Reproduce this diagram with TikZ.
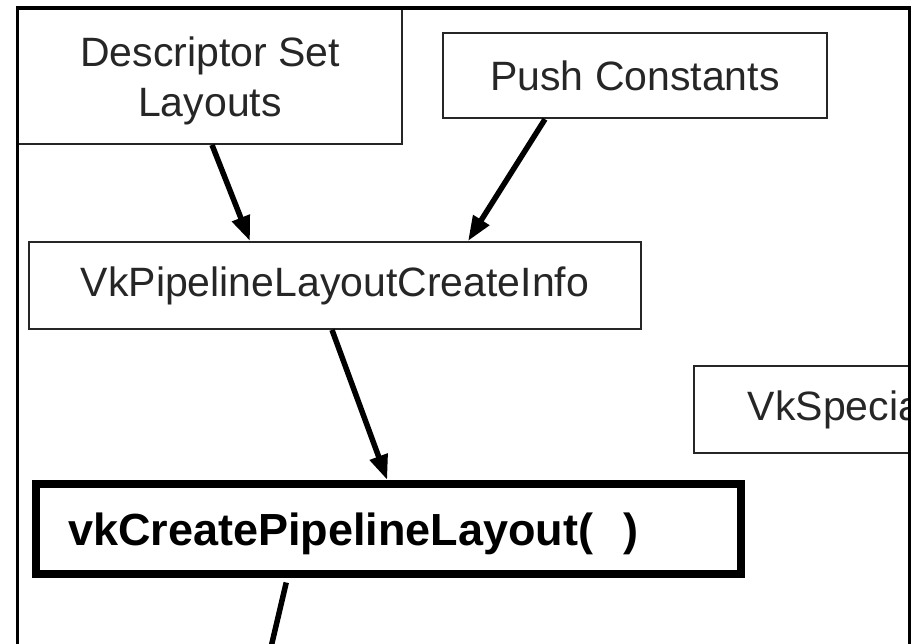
\documentclass[tikz,border=0pt]{standalone}
\usepackage{fontspec}
\setmainfont{Liberation Sans}
\usetikzlibrary{arrows.meta}
\begin{document}
\begin{tikzpicture}[x=1pt,y=-1pt,
  box/.style={draw=black!85, line width=1.8pt, inner sep=0pt,
    font=\fontsize{41}{50}\selectfont, text=black!85},
  callbox/.style={draw=black, line width=8pt, inner ysep=0pt,
    font=\fontsize{45}{54}\selectfont\bfseries},
  flow/.style={line width=5.5pt, -{Triangle[length=25pt,width=18pt]}},
]
\useasboundingbox (0,0) rectangle (911,644);
\clip (0,0) rectangle (911,644);

% inputs of the layout
\node[box, minimum width=384pt, minimum height=135pt, align=center,
      text depth=0pt] (dsl) at (210,76.5) {Descriptor Set\\Layouts};
\node[box, minimum width=384pt, minimum height=85pt] (push) at (635,75.8)
      {Push Constants};

% create-info structure and the call
\node[box, minimum width=612pt, minimum height=87pt] (info) at (335,285.5)
      {VkPipelineLayoutCreateInfo};
\node[callbox, minimum width=705.5pt, minimum height=89.5pt, inner xsep=32.5pt,
      text width=640.5pt, align=left, text depth=0pt] (call) at (388.25,528.75)
      {vkCreatePipelineLayout(\ \ )};

% specialization info box, cut off by the frame
\begin{scope}
  \clip (0,0) rectangle (908,644);
  \node[box, anchor=west, inner xsep=54pt, minimum height=87pt] (spec)
        at (693,409.5) {VkSpecia};
\end{scope}

% connectors
\draw[flow] ([xshift=2pt]dsl.south) -- ([xshift=-85pt]info.north);
\draw[flow] ([xshift=-90pt]push.south) -- ([xshift=133pt]info.north);
\draw[flow] ([xshift=-3pt]info.south) -- ([xshift=-1pt]call.north);
\coordinate (down) at (268,660);
\draw[line width=5.5pt] ([xshift=-102pt,yshift=-5pt]call.south) -- (down);

% frame
\draw[line width=3.5pt] (17.5,660) -- (17.5,8) -- (909.5,8) -- (909.5,660);
\end{tikzpicture}
\end{document}
